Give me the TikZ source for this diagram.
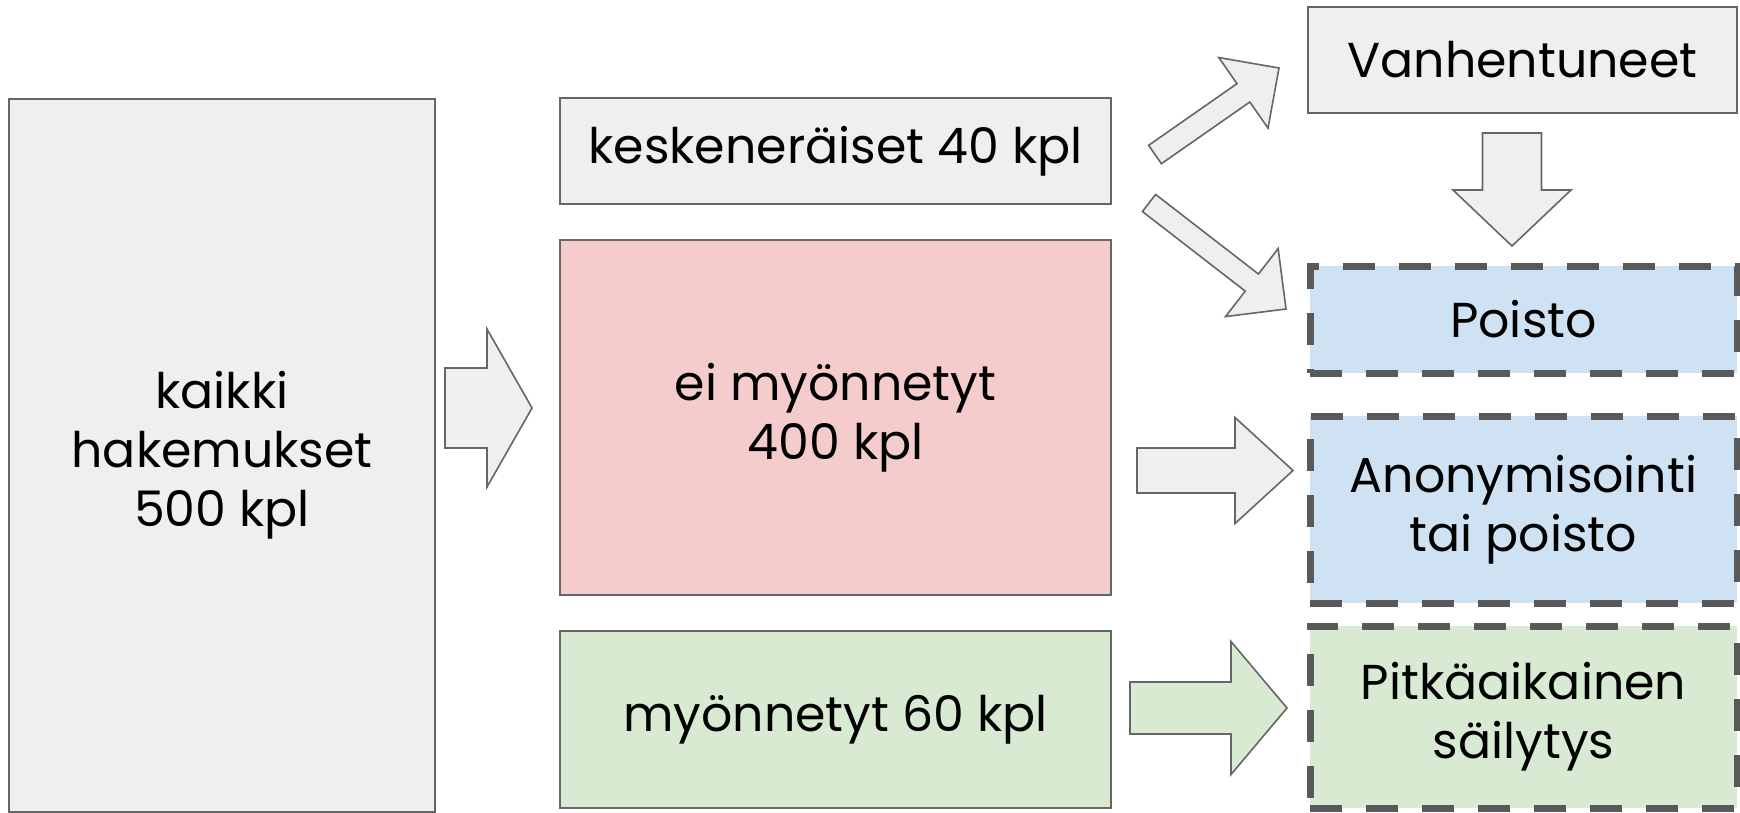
\documentclass[tikz,border=0pt]{standalone}
\usepackage{fontspec}
\setmainfont{Poppins}
\usetikzlibrary{calc}
\definecolor{gfill}{HTML}{EFEFEF}
\definecolor{pfill}{HTML}{F4CCCC}
\definecolor{grfill}{HTML}{D9EAD3}
\definecolor{bfill}{HTML}{CFE2F3}
\definecolor{edge}{HTML}{666666}
\definecolor{dedge}{HTML}{595959}
\newcommand\blockarr[6]{%
  \draw[arrline, fill=#6]
    ($(#1)!#3!90:(#2)$) -- ($($(#2)!#5!(#1)$)!#3!90:(#2)$)
    -- ($($(#2)!#5!(#1)$)!#4!90:(#2)$) -- (#2)
    -- ($($(#2)!#5!(#1)$)!#4!-90:(#2)$) -- ($($(#2)!#5!(#1)$)!#3!-90:(#2)$)
    -- ($(#1)!#3!-90:(#2)$) -- cycle;}
\tikzset{
  box/.style={draw=edge, line width=1.6pt, inner sep=0pt, outer sep=0pt,
    align=center, font=\fontsize{49}{59}\selectfont},
  dbox/.style={box, draw=dedge, line width=7pt, dash pattern=on 32pt off 24pt},
  arrline/.style={draw=edge, line width=1.6pt, line join=miter},
}
\begin{document}
\begin{tikzpicture}[x=1pt,y=-1pt]
\useasboundingbox (0,0) rectangle (1740,812);
% boxes
\node[box, fill=gfill, minimum width=426pt, minimum height=713pt] (A) at (222,455.5) {kaikki\\hakemukset\\500 kpl};
\node[box, fill=gfill, minimum width=551pt, minimum height=106pt] (K) at (835.5,151) {keskeneräiset 40 kpl};
\node[box, fill=pfill, minimum width=551pt, minimum height=355pt] (E) at (835.5,417.5) {ei myönnetyt\\400 kpl};
\node[box, fill=grfill, minimum width=551pt, minimum height=177pt] (M) at (835.5,719.5) {myönnetyt 60 kpl};
\node[box, fill=gfill, minimum width=429pt, minimum height=106pt] (V) at (1522.5,60) {Vanhentuneet};
\node[dbox, fill=bfill, minimum width=427pt, minimum height=107pt] (P) at (1523.5,319.5) {Poisto};
\node[dbox, fill=bfill, minimum width=427pt, minimum height=187pt] (AN) at (1523.5,509.5) {Anonymisointi\\tai poisto};
\node[dbox, fill=grfill, minimum width=427pt, minimum height=182pt] (PS) at (1523.5,717) {Pitkäaikainen\\säilytys};
% arrow end points
\coordinate (a1s) at (445,408);   \coordinate (a1t) at (532,408);
\coordinate (a2s) at (1137,470.5); \coordinate (a2t) at (1293,470.5);
\coordinate (a3s) at (1130,708);  \coordinate (a3t) at (1287,708);
\coordinate (a4s) at (1512,133);  \coordinate (a4t) at (1512,246);
\coordinate (a5s) at (1155,154.5); \coordinate (a5t) at (1279,68);
\coordinate (a6s) at (1149,203);  \coordinate (a6t) at (1286,309);
% block arrows
\blockarr{a1s}{a1t}{40pt}{79pt}{45pt}{gfill}
\blockarr{a2s}{a2t}{22.5pt}{53pt}{58pt}{gfill}
\blockarr{a3s}{a3t}{26pt}{66.5pt}{56pt}{grfill}
\blockarr{a4s}{a4t}{29.5pt}{59pt}{56pt}{gfill}
\blockarr{a5s}{a5t}{11.2pt}{43pt}{43.4pt}{gfill}
\blockarr{a6s}{a6t}{10.8pt}{43pt}{43.2pt}{gfill}
\end{tikzpicture}
\end{document}
